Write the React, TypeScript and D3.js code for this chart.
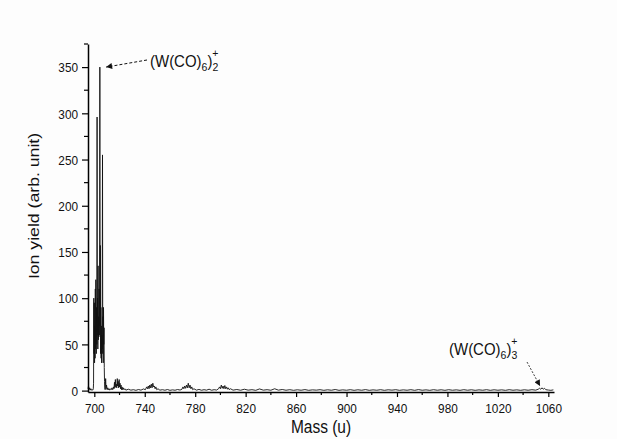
import React, { useEffect, useRef } from 'react';
import * as d3 from 'd3';

// spectrum: [mass (u), ion yield (arb. unit)]
const spectrum: [number, number][] = [
  [695.0, 2], [695.4, 5], [695.8, 1], [696.3, 3], [696.8, 0.5], [697.3, 2], [697.8, 0.5], [698.3, 1], [698.8, 0.5], [699.2, 2],
  [699.4, 8], [699.6, 100], [699.8, 40], [700.0, 95], [700.2, 30], [700.4, 70], [700.6, 35], [700.8, 110], [701.0, 45],
  [701.2, 120], [701.4, 60], [701.6, 40], [701.8, 90], [702.0, 50], [702.2, 296], [702.4, 60], [702.6, 100], [702.8, 45],
  [703.0, 135], [703.2, 55], [703.4, 80], [703.6, 58], [703.8, 110], [704.0, 60], [704.2, 80], [704.4, 350], [704.6, 70],
  [704.8, 157], [705.0, 40], [705.2, 90], [705.4, 35], [705.6, 70], [705.8, 30], [706.0, 60], [706.2, 45], [706.5, 255],
  [706.7, 40], [706.9, 80], [707.1, 30], [707.3, 90], [707.5, 50], [707.7, 68], [707.9, 25], [708.1, 10], [708.3, 3],
  [708.6, 1], [709.0, 13], [709.3, 2], [709.7, 6], [710.2, 1], [710.7, 3], [711.2, 1], [711.7, 2], [712.2, 0.5], [712.8, 2],
  [713.4, 1], [714.0, 3], [714.6, 1], [715.2, 4], [715.6, 2], [716.0, 9], [716.3, 3], [716.7, 12], [717.0, 4], [717.4, 7],
  [717.8, 3], [718.2, 13], [718.5, 5], [718.9, 10], [719.3, 3], [719.7, 12], [720.0, 4], [720.4, 8], [720.8, 2], [721.2, 6],
  [721.6, 1], [722.0, 4], [722.5, 1], [723.0, 3], [723.6, 1], [724.2, 2],
  [725, 0.5], [727, 1.5], [729, 0.5], [731, 1], [733, 0.3], [735, 1.2], [737, 0.5], [739, 1.8],
  [740.5, 1], [741.5, 4], [742.2, 2], [742.8, 5], [743.4, 2], [744, 6], [744.6, 3], [745.2, 7], [745.8, 3], [746.4, 8],
  [747, 4], [747.6, 5], [748.2, 2], [748.8, 4], [749.5, 1], [750.5, 2],
  [752, 0.5], [754, 1], [756, 0.4], [758, 1.2], [760, 0.3], [762, 0.8], [764, 0.4], [766, 1.2], [768, 0.6],
  [769.5, 1.5], [770.3, 4], [771, 2], [771.7, 5], [772.4, 2.5], [773.1, 6], [773.8, 3], [774.5, 8], [775.2, 3], [775.9, 6],
  [776.6, 2], [777.3, 4], [778, 1], [779, 2],
  [781, 0.5], [783, 1.3], [785, 0.4], [787, 1], [789, 0.5], [791, 1.5], [793, 0.4], [795, 1], [797, 0.6],
  [798.5, 2], [799.3, 4], [800, 2], [800.7, 6], [801.4, 2.5], [802.1, 5], [802.8, 2], [803.5, 5.5], [804.2, 2], [804.9, 4],
  [805.6, 1.5], [806.3, 3], [807, 1], [808, 2],
  [810, 0.5], [813, 1.2], [816, 0.4], [819, 1.5], [822, 0.5], [825, 1], [828, 0.3], [831, 1.8], [834, 0.5], [837, 1],
  [840, 0.4], [843, 2], [846, 0.5], [849, 1.2], [852, 0.4], [855, 1], [858, 0.3], [861, 0.9], [864, 0.4], [867, 1.1],
  [870, 0.3], [873, 0.8], [876, 0.5], [879, 1], [882, 0.3], [885, 0.9], [888, 0.4], [891, 1.2], [894, 0.3], [897, 0.8],
  [900, 0.4], [903, 1], [906, 0.3], [909, 0.9], [912, 0.4], [915, 1.1], [918, 0.3], [921, 0.8], [924, 0.4], [927, 1],
  [930, 0.3], [933, 0.9], [936, 0.5], [939, 1], [942, 0.3], [945, 0.8], [948, 0.4], [951, 1], [954, 0.3], [957, 1.1],
  [960, 0.4], [963, 0.8], [966, 0.3], [969, 1], [972, 0.4], [975, 0.9], [978, 0.3], [981, 1], [984, 0.4], [987, 0.8],
  [990, 0.3], [993, 1], [996, 0.4], [999, 0.9], [1002, 0.3], [1005, 0.8], [1008, 0.4], [1011, 1], [1014, 0.3], [1017, 0.9],
  [1020, 0.4], [1023, 0.8], [1026, 0.3], [1029, 1], [1032, 0.4], [1035, 0.8], [1038, 0.3], [1041, 0.9], [1044, 0.4],
  [1047, 1], [1050, 0.5], [1052, 1.5], [1053, 2.5], [1054, 1.5], [1055, 3], [1056, 1.5], [1057, 2.5], [1058, 1],
  [1060, 0.6], [1062, 0.3], [1064, 0.8],
];

const xTicks = [700, 740, 780, 820, 860, 900, 940, 980, 1020, 1060];
const xMinor = [720, 760, 800, 840, 880, 920, 960, 1000, 1040];
const yTicks = [0, 50, 100, 150, 200, 250, 300, 350];
const yMinor = [25, 75, 125, 175, 225, 275, 325, 375];

// annotated peaks: [mass, yield] the arrows point at
const dimerPeak: [number, number] = [704.6, 350];
const trimerPeak: [number, number] = [1055, 5];

const W = 617, H = 439;
const FONT = "'Liberation Sans', Arial, sans-serif";
const STRETCH = 1.14; // text in the picture is a little taller than wide

export default function App() {
  const svgRef = useRef<SVGSVGElement | null>(null);

  useEffect(() => {
    document.body.style.margin = '0';
    const svg = d3.select(svgRef.current);
    svg.selectAll('*').remove();

    const x = d3.scaleLinear().domain([695, 1064.5]).range([88, 554]);
    const y = d3.scaleLinear().domain([-1.5, 375]).range([392, 44]);

    svg.append('rect').attr('width', W).attr('height', H).attr('fill', '#fdfdfd');

    const defs = svg.append('defs');
    defs.append('marker')
      .attr('id', 'head')
      .attr('viewBox', '0 0 10 10')
      .attr('refX', 10).attr('refY', 5)
      .attr('markerWidth', 8).attr('markerHeight', 6)
      .attr('markerUnits', 'userSpaceOnUse')
      .attr('orient', 'auto')
      .append('path').attr('d', 'M0,0L10,5L0,10Z').attr('fill', '#111');

    // spectrum
    const line = d3.line<[number, number]>().x(d => x(d[0])).y(d => y(d[1]));
    svg.append('path')
      .datum(spectrum)
      .attr('d', line)
      .attr('fill', 'none')
      .attr('stroke', '#111')
      .attr('stroke-width', 0.9);

    // x axis
    const gX = svg.append('g').attr('transform', `translate(0, ${y(-1.5)})`);
    gX.call(d3.axisBottom(x).tickValues(xTicks).tickSize(5).tickSizeOuter(0).tickFormat(d3.format('d')));
    xMinor.forEach(v => {
      gX.append('line').attr('x1', x(v)).attr('x2', x(v)).attr('y1', 0).attr('y2', 3)
        .attr('stroke', '#000').attr('stroke-width', 1.2);
    });

    // y axis
    const gY = svg.append('g').attr('transform', `translate(${x(695)}, 0)`);
    gY.call(d3.axisLeft(y).tickValues(yTicks).tickSize(6).tickSizeOuter(0).tickFormat(d3.format('d')));
    yMinor.forEach(v => {
      gY.append('line').attr('x1', 0).attr('x2', -4).attr('y1', y(v)).attr('y2', y(v))
        .attr('stroke', '#000').attr('stroke-width', 1.2);
    });

    [gX, gY].forEach(g => {
      g.select('.domain').attr('stroke', '#000').attr('stroke-width', 1.5);
      g.selectAll('.tick line').attr('stroke', '#000').attr('stroke-width', 1.2);
      g.selectAll('.tick text')
        .attr('font-family', FONT).attr('font-size', 11.8).attr('fill', '#111')
        .attr('x', 0).attr('y', 0).attr('dy', 0);
    });
    gX.selectAll('.tick text').attr('transform', `translate(0, 21) scale(1, ${STRETCH})`);
    gY.selectAll('.tick text').attr('transform', `translate(-10, 4.7) scale(1, ${STRETCH})`);

    // axis titles
    svg.append('text')
      .attr('transform', `translate(321, 433) scale(1, ${STRETCH})`)
      .attr('text-anchor', 'middle')
      .attr('font-family', FONT).attr('font-size', 15.5).attr('fill', '#111')
      .text('Mass (u)');
    svg.append('text')
      .attr('transform', `translate(39, 206) scale(1, ${STRETCH}) rotate(-90)`)
      .attr('text-anchor', 'middle')
      .attr('font-family', FONT).attr('font-size', 15.5).attr('fill', '#111')
      .text('Ion yield (arb. unit)');

    // annotations
    const label = (tx: number, ty: number, n: string) => {
      const t = svg.append('text')
        .attr('transform', `translate(${tx}, ${ty}) scale(1, 1.06)`)
        .attr('font-family', FONT).attr('font-size', 15).attr('fill', '#111');
      t.append('tspan').text('(W(CO)');
      t.append('tspan').attr('dy', 4).attr('font-size', 10.5).text('6');
      t.append('tspan').attr('dy', -4).text(')');
      t.append('tspan').attr('dy', 4).attr('font-size', 10.5).text(n);
      t.append('tspan').attr('dx', -6).attr('dy', -13).attr('font-size', 10.5).text('+');
    };
    label(150, 67, '2');
    label(449, 355, '3');

    svg.append('line')
      .attr('x1', 147).attr('y1', 60)
      .attr('x2', x(dimerPeak[0]) + 6).attr('y2', y(dimerPeak[1]))
      .attr('stroke', '#111').attr('stroke-width', 1)
      .attr('stroke-dasharray', '3,2')
      .attr('marker-end', 'url(#head)');
    svg.append('line')
      .attr('x1', 527).attr('y1', 362)
      .attr('x2', x(trimerPeak[0]) - 2).attr('y2', y(trimerPeak[1]))
      .attr('stroke', '#111').attr('stroke-width', 0.8)
      .attr('stroke-dasharray', '2,1.5')
      .attr('marker-end', 'url(#head)');
  }, []);

  return (
    <svg ref={svgRef} width={W} height={H} style={{ display: 'block' }} />
  );
}
